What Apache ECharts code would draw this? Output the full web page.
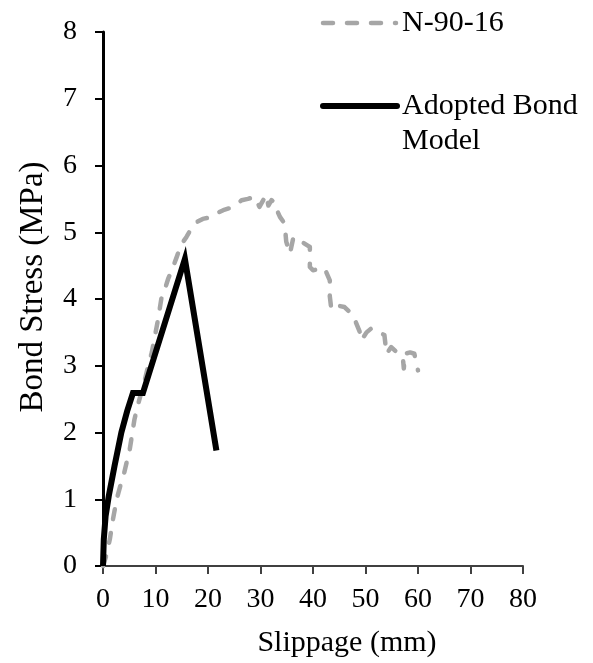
<!DOCTYPE html>
<html>
<head>
<meta charset="utf-8">
<script src="https://cdn.jsdelivr.net/npm/echarts@6/dist/echarts.min.js"></script>
<style>
  html, body { margin: 0; padding: 0; background: #fff; }
  #chart { width: 593px; height: 663px; }
</style>
</head>
<body>
<div id="chart"></div>
<script>
// Measured bond-slip response of specimen N-90-16 (slip in mm, stress in MPa)
const testSlip = [0, 0.6, 1.3, 1.9, 2.6, 3.3, 3.9, 4.5, 5.1, 5.6, 6.0, 6.6, 7.3, 8.0, 8.6, 9.3, 9.9, 10.5, 11.1, 11.8, 12.4, 13.2, 14.0, 14.6, 15.2, 15.9, 16.8, 17.8, 19.0, 20.3, 21.5, 22.9, 24.1, 25.5, 26.4, 27.6, 28.9, 29.8, 31.1, 31.5, 32.1, 33.0, 33.3, 33.7, 34.6, 34.9, 35.6, 36.2, 36.8, 37.8, 39.0, 39.4, 39.4, 40.0, 41.2, 42.2, 43.2, 43.2, 43.5, 44.8, 46.0, 47.6, 48.9, 49.2, 50.2, 51.1, 53.6, 54.0, 54.9, 56.0, 57.1, 57.3, 57.5, 58.5, 59.3, 60.0];
const testStress = [0, 0.15, 0.4, 0.7, 1.0, 1.2, 1.35, 1.55, 1.75, 2.0, 2.2, 2.4, 2.6, 2.8, 3.0, 3.2, 3.45, 3.7, 4.0, 4.15, 4.3, 4.45, 4.62, 4.75, 4.85, 4.93, 5.05, 5.15, 5.2, 5.22, 5.28, 5.33, 5.36, 5.42, 5.48, 5.5, 5.53, 5.38, 5.56, 5.4, 5.48, 5.43, 5.3, 5.23, 5.13, 4.86, 4.68, 4.9, 4.93, 4.86, 4.8, 4.78, 4.48, 4.43, 4.45, 4.46, 4.28, 4.04, 3.84, 3.9, 3.88, 3.76, 3.51, 3.38, 3.5, 3.56, 3.46, 3.18, 3.28, 3.2, 3.13, 2.96, 3.18, 3.2, 3.18, 2.93];

// Adopted bond model (slip in mm, stress in MPa)
const modelSlip = [0, 0.15, 0.5, 1.1, 2.2, 3.5, 4.6, 5.7, 7.6, 15.6, 21.6];
const modelStress = [0, 0.4, 0.75, 1.05, 1.5, 2.0, 2.32, 2.59, 2.59, 4.6, 1.73];

const seriesNames = ['N-90-16', 'Adopted Bond Model'];
const xTitle = 'Slippage (mm)';
const yTitle = 'Bond Stress (MPa)';

const FONT = "'Liberation Serif', 'Times New Roman', serif";
const GRAY = '#a6a6a6';
const DASH = [10, 14];

const pairs = (xs, ys) => xs.map((x, i) => [x, ys[i]]);

const chart = echarts.init(document.getElementById('chart'), null, { renderer: 'canvas' });

chart.setOption({
  animation: false,
  backgroundColor: '#fff',
  grid: { left: 103, right: 70, top: 32, bottom: 97, containLabel: false },
  xAxis: {
    type: 'value', min: 0, max: 80, interval: 10,
    axisLine: { show: true, onZero: false, lineStyle: { color: '#404040', width: 2 } },
    axisTick: { show: true, length: 8, lineStyle: { color: '#404040', width: 2 } },
    splitLine: { show: false },
    axisLabel: { color: '#000', fontFamily: FONT, fontSize: 28, margin: 20 }
  },
  yAxis: {
    type: 'value', min: 0, max: 8, interval: 1,
    axisLine: { show: true, onZero: false, lineStyle: { color: '#000', width: 3 } },
    axisTick: { show: true, length: 8, lineStyle: { color: '#000', width: 2 } },
    splitLine: { show: false },
    axisLabel: { color: '#000', fontFamily: FONT, fontSize: 28, margin: 26 }
  },
  series: [
    {
      name: seriesNames[0], type: 'line', data: pairs(testSlip, testStress),
      showSymbol: false, clip: false, z: 2,
      lineStyle: { color: GRAY, width: 4.5, type: DASH, cap: 'round', join: 'round' }
    },
    {
      name: seriesNames[1], type: 'line', data: pairs(modelSlip, modelStress),
      showSymbol: false, clip: false, z: 3,
      lineStyle: { color: '#000', width: 6, join: 'miter', cap: 'butt' }
    }
  ],
  graphic: [
    // legend
    { type: 'line', shape: { x1: 323, y1: 23, x2: 396, y2: 23 }, z: 10,
      style: { stroke: GRAY, lineWidth: 4.5, lineDash: DASH, lineCap: 'round' } },
    { type: 'text', x: 402, y: 23, z: 10,
      style: { text: seriesNames[0], fill: '#000', font: '30px ' + FONT, textAlign: 'left', textVerticalAlign: 'middle' } },
    { type: 'line', shape: { x1: 323, y1: 106, x2: 397, y2: 106 }, z: 10,
      style: { stroke: '#000', lineWidth: 6, lineCap: 'round' } },
    { type: 'text', x: 402, y: 106, z: 10,
      style: { text: 'Adopted Bond', fill: '#000', font: '30px ' + FONT, textAlign: 'left', textVerticalAlign: 'middle' } },
    { type: 'text', x: 402, y: 141, z: 10,
      style: { text: 'Model', fill: '#000', font: '30px ' + FONT, textAlign: 'left', textVerticalAlign: 'middle' } },
    // axis titles
    { type: 'text', x: 347, y: 643, z: 10,
      style: { text: xTitle, fill: '#000', font: '30px ' + FONT, textAlign: 'center', textVerticalAlign: 'middle' } },
    { type: 'text', x: 33, y: 287, rotation: Math.PI / 2, z: 10,
      style: { text: yTitle, fill: '#000', font: '33px ' + FONT, textAlign: 'center', textVerticalAlign: 'middle' } }
  ]
});
</script>
</body>
</html>
